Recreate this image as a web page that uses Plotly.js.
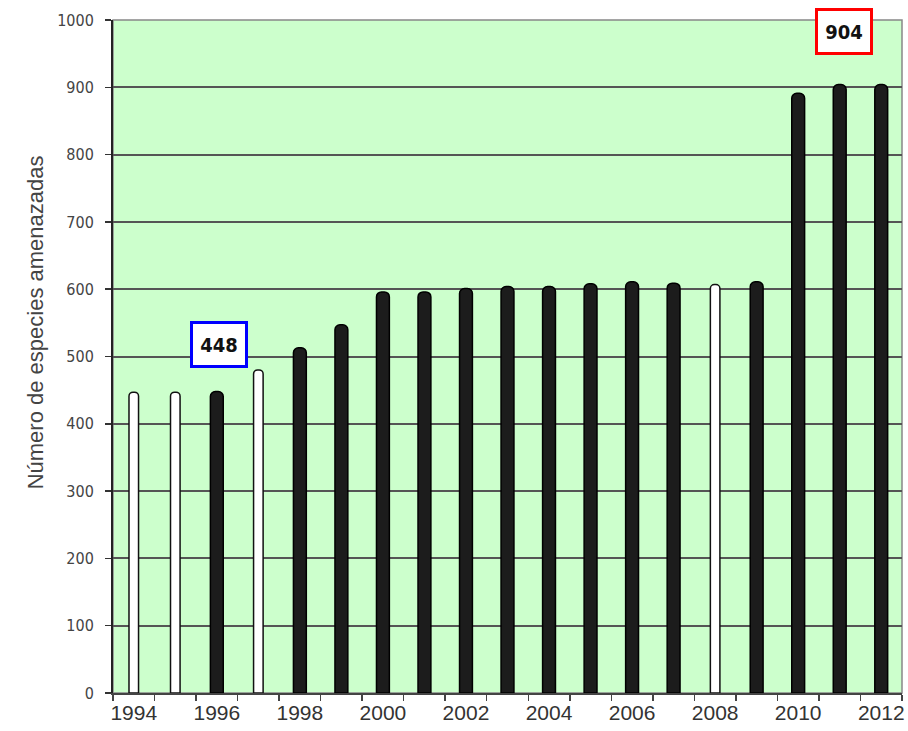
<!DOCTYPE html>
<html>
<head>
<meta charset="utf-8">
<script src="https://cdn.plot.ly/plotly-3.0.1.min.js"></script>
<style>html,body{margin:0;padding:0;background:#fff;}#chart{width:908px;height:731px;}</style>
</head>
<body>
<div id="chart"></div>
<script>
// Data
const years = [1994,1995,1996,1997,1998,1999,2000,2001,2002,2003,2004,2005,2006,2007,2008,2009,2010,2011,2012];
const values = [447,447,448,480,513,547,596,596,601,604,604,608,611,609,607,611,891,904,904];
// true = hollow (white) bar in the reference
const hollow = [true,true,false,true,false,false,false,false,false,false,false,false,false,false,true,false,false,false,false];
const xTickLabels = ['1994','1996','1998','2000','2002','2004','2006','2008','2010','2012'];
const yTitle = 'Número de especies amenazadas';
const callouts = [
  {year: 1996, value: 448, color: '#0000ff'},
  {year: 2011, value: 904, color: '#ff0000'}
];

const solidX = [], solidY = [], hollowX = [], hollowY = [];
years.forEach((y, i) => {
  if (hollow[i]) { hollowX.push(y); hollowY.push(values[i]); }
  else { solidX.push(y); solidY.push(values[i]); }
});

const traces = [
  {type: 'bar', x: solidX, y: solidY, width: 0.31,
   marker: {color: '#1c1c1c', line: {color: '#000', width: 1.5}, cornerradius: 5},
   hoverinfo: 'x+y', showlegend: false},
  {type: 'bar', x: hollowX, y: hollowY, width: 0.23,
   marker: {color: '#ffffff', line: {color: '#111', width: 1.5}, cornerradius: 4},
   hoverinfo: 'x+y', showlegend: false}
];

const minorVals = years.map(y => y - 0.5).concat([years[years.length-1] + 0.5]);

const annotations = callouts.map((c, i) => ({
  x: c.year, y: c.value, xref: 'x', yref: 'y',
  yshift: i === 0 ? 47 : 53, xshift: i === 0 ? 2 : 4,
  text: '<b>' + c.value + '</b>', showarrow: false,
  font: {family: 'DejaVu Sans Condensed, Liberation Sans Narrow, Arial Narrow, Liberation Sans, Arial', size: 20, color: '#111'},
  bgcolor: '#ffffff', bordercolor: c.color, borderwidth: 3, borderpad: 2,
  width: 48, height: 37
}));
annotations.push({
  xref: 'paper', yref: 'paper', x: -0.117, y: 0.551,
  text: yTitle, textangle: -90, showarrow: false,
  font: {family: 'Liberation Sans, Arial, sans-serif', size: 22, color: '#444'}
});

const layout = {
  width: 908, height: 731,
  margin: {l: 113, r: 6, t: 20, b: 38},
  paper_bgcolor: '#ffffff', plot_bgcolor: '#ccffcc',
  barmode: 'overlay',
  xaxis: {
    range: [1993.5, 2012.5],
    tickvals: xTickLabels.map(Number), ticktext: xTickLabels,
    ticks: '', showgrid: false, zeroline: false,
    showline: true, linecolor: '#444', linewidth: 2,
    tickfont: {family: 'Liberation Sans, Arial, sans-serif', size: 21, color: '#333'},
    minor: {tickvals: minorVals, ticks: 'outside', ticklen: 6, tickcolor: '#444', tickwidth: 1.5, showgrid: false}
  },
  yaxis: {
    range: [0, 1000], dtick: 100, tick0: 0,
    ticks: 'outside', ticklen: 6, tickcolor: '#333', tickwidth: 1.5,
    showgrid: true, gridcolor: '#555555', gridwidth: 2,
    zeroline: false, showline: true, linecolor: '#222', linewidth: 2,
    tickfont: {family: 'DejaVu Sans Condensed, Liberation Sans Narrow, Arial Narrow, Liberation Sans, Arial', size: 16, color: '#444'},
    ticklabelstandoff: 8
  },
  shapes: [{type: 'rect', xref: 'paper', yref: 'paper', x0: 0, x1: 1, y0: 0, y1: 1,
            line: {color: '#888', width: 1.5}, layer: 'below'}],
  annotations: annotations
};

Plotly.newPlot('chart', traces, layout, {displayModeBar: false, staticPlot: true});
</script>
</body>
</html>
